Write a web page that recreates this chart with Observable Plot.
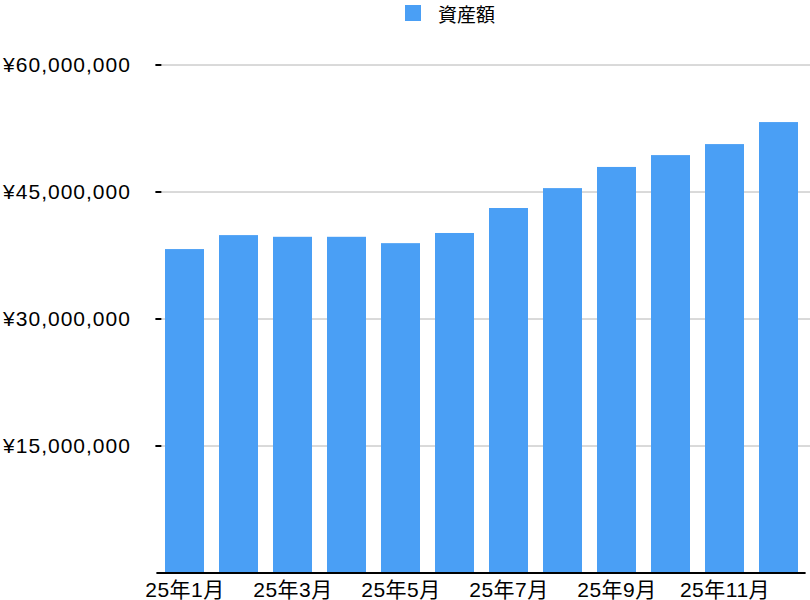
<!DOCTYPE html>
<html>
<head>
<meta charset="utf-8">
<script src="https://cdn.jsdelivr.net/npm/d3@7"></script>
<script src="https://cdn.jsdelivr.net/npm/@observablehq/plot@0.6"></script>
<style>
  html, body { margin: 0; padding: 0; background: #fff; }
  body { width: 810px; height: 600px; overflow: hidden; font-family: "Liberation Sans", "Noto Sans CJK JP", sans-serif; }
  #legend { height: 26px; display: flex; align-items: center; padding-left: 405px; font-size: 19px; color: #000; }
  #legend .sw { width: 16px; height: 16px; background: #4a9ff5; margin-right: 17px; }
  g[aria-label="y-axis tick label"] text { letter-spacing: 1px; }
  g[aria-label="x-axis tick label"] text { letter-spacing: 0.5px; }
</style>
</head>
<body>
<div id="legend"><span class="sw"></span><span id="legend-label"></span></div>
<div id="chart"></div>
<script>
const seriesName = "資産額";
const months = ["25年1月","25年2月","25年3月","25年4月","25年5月","25年6月","25年7月","25年8月","25年9月","25年10月","25年11月","25年12月"];
const values = [38200000, 39850000, 39650000, 39650000, 38900000, 40100000, 43050000, 45400000, 47900000, 49300000, 50600000, 53200000];
const yTicks = [15000000, 30000000, 45000000, 60000000];
const xTicks = ["25年1月","25年3月","25年5月","25年7月","25年9月","25年11月"];

document.getElementById("legend-label").textContent = seriesName;

const data = months.map((m, i) => ({month: m, value: values[i]}));
const yen = d => "¥" + d3.format(",")(d);

const chart = Plot.plot({
  width: 810,
  height: 574,
  marginTop: 38.5,
  marginBottom: 27.5,
  marginLeft: 156.4,
  marginRight: 4.4,
  style: {fontFamily: '"Liberation Sans", "Noto Sans CJK JP", sans-serif', color: "#000", background: "#fff"},
  x: {domain: months, paddingInner: 0.28, paddingOuter: 0.14, label: null},
  y: {domain: [0, 60000000], label: null},
  marks: [
    Plot.gridY(yTicks, {stroke: "#b4b4b4", strokeOpacity: 1, strokeWidth: 1, dx: 5}),
    Plot.barY(data, {x: "month", y: "value", fill: "#4a9ff5"}),
    Plot.ruleY([0], {stroke: "#000", strokeWidth: 2}),
    Plot.axisY(yTicks, {tickFormat: yen, tickSize: 6, tickPadding: 25, dx: 5, strokeWidth: 2, label: null, fontSize: 21, fontVariant: "normal"}),
    Plot.axisX(xTicks, {tickSize: 0, tickPadding: 9, label: null, fontSize: 21, fontVariant: "normal"})
  ]
});
document.getElementById("chart").appendChild(chart);
</script>
</body>
</html>
